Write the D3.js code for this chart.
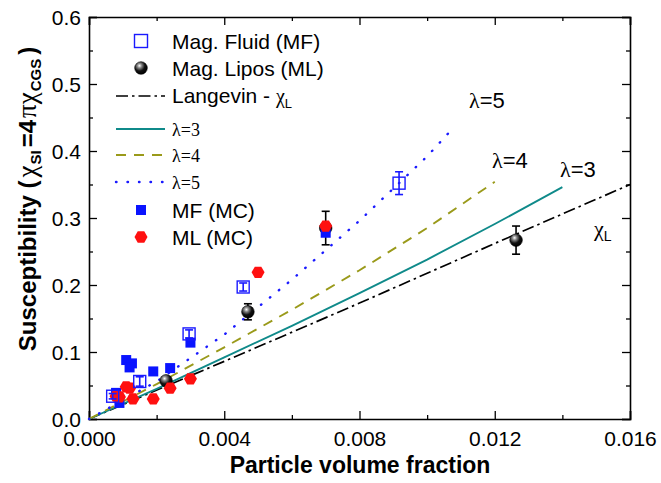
<!DOCTYPE html>
<html><head><meta charset="utf-8">
<script src="https://cdn.jsdelivr.net/npm/d3@7"></script>
<style>
body{margin:0;background:#fff;}
svg{font-family:"Liberation Sans",Arial,sans-serif;}
</style></head><body>
<svg id="chart" width="661" height="483"></svg>
<script>
// ---- data ----
const xTicks = [0, 0.004, 0.008, 0.012, 0.016];
const yTicks = [0, 0.1, 0.2, 0.3, 0.4, 0.5, 0.6];
// experimental: [x, y, err]
const magFluid = [[0.0007,0.034,0.004],[0.0015,0.056,0.007],[0.00296,0.127,0.006],[0.00456,0.197,0.006],[0.00917,0.352,0.017]];
const magLipos = [[0.00228,0.057,0.004],[0.0047,0.160,0.012],[0.0070,0.285,0.025],[0.01263,0.267,0.021]];
// simulations
const mfMC = [[0.0008,0.039],[0.0009,0.024],[0.0011,0.088],[0.00127,0.083],[0.0012,0.077],[0.0019,0.071],[0.0024,0.076],[0.0030,0.114],[0.0070,0.278]];
const mlMC = [[0.0008,0.034],[0.0009,0.033],[0.0011,0.048],[0.0012,0.046],[0.0013,0.030],[0.0019,0.030],[0.0024,0.046],[0.0030,0.060],[0.0050,0.219],[0.0070,0.288]];
// theory curves
const langevin = [[0,0],[0.004,0.086],[0.008,0.173],[0.012,0.262],[0.016,0.350]];
const lambda3 = [[0,0],[0.002,0.045],[0.004,0.092],[0.006,0.139],[0.008,0.188],[0.010,0.238],[0.012,0.291],[0.014,0.346]];
const lambda4 = [[0,0],[0.002,0.052],[0.004,0.107],[0.006,0.163],[0.008,0.222],[0.010,0.285],[0.012,0.354]];
const lambda5 = [[0,0],[0.002,0.056],[0.004,0.126],[0.006,0.208],[0.008,0.296],[0.010,0.392],[0.0108,0.436]];

const SERIF = "'Liberation Serif','Times New Roman',serif";
const svg = d3.select("#chart");
const L=89, R=630, T=17, B=419;
const x = d3.scaleLinear().domain([0,0.016]).range([L,R]);
const y = d3.scaleLinear().domain([0,0.6]).range([B,T]);

const defs = svg.append("defs");
const rg = defs.append("radialGradient").attr("id","sph").attr("cx","0.38").attr("cy","0.32").attr("r","0.7");
rg.append("stop").attr("offset","0").attr("stop-color","#ffffff");
rg.append("stop").attr("offset","0.25").attr("stop-color","#888");
rg.append("stop").attr("offset","0.6").attr("stop-color","#111");
rg.append("stop").attr("offset","1").attr("stop-color","#000");

// axes
const minorX = d3.range(0,0.0161,0.002);
const minorY = d3.range(0,0.601,0.05);
const g = svg.append("g");
const axB = d3.axisBottom(x).tickValues(minorX).tickSize(-8).tickFormat(d=>xTicks.some(t=>Math.abs(t-d)<1e-9)?d3.format(".3f")(d):"").tickPadding(12);
const axL = d3.axisLeft(y).tickValues(minorY).tickSize(-8).tickFormat(d=>yTicks.some(t=>Math.abs(t-d)<1e-9)?d3.format(".1f")(d):"").tickPadding(8);
const axT = d3.axisTop(x).tickValues(minorX).tickSize(-8).tickFormat("");
const axR = d3.axisRight(y).tickValues(minorY).tickSize(-8).tickFormat("");
function styleAx(sel){
  sel.attr("font-family",null).attr("font-size",null);
  sel.select(".domain").attr("stroke","#000").attr("stroke-width",1.6);
  sel.selectAll(".tick line").attr("stroke","#000").attr("stroke-width",1.3);
  sel.selectAll(".tick text").style("font-size","21px").attr("fill","#000");
}
const gb = g.append("g").attr("transform",`translate(0,${B})`).call(axB); styleAx(gb);
const gl = g.append("g").attr("transform",`translate(${L},0)`).call(axL); styleAx(gl);
const gt = g.append("g").attr("transform",`translate(0,${T})`).call(axT); styleAx(gt);
const gr = g.append("g").attr("transform",`translate(${R},0)`).call(axR); styleAx(gr);
[gb,gl,gt,gr].forEach((s,i)=>{
  s.selectAll(".tick").each(function(d){
    const major = (i%2==0? xTicks: yTicks).some(t=>Math.abs(t-d)<1e-9);
    if(!major){
      const ln=d3.select(this).select("line");
      if(i==0) ln.attr("y2",-4); if(i==2) ln.attr("y2",4);
      if(i==1) ln.attr("x2",4); if(i==3) ln.attr("x2",-4);
    }
  });
});
gl.selectAll(".tick text").attr("dy","0.34em");

// lines
const line = d3.line().x(d=>x(d[0])).y(d=>y(d[1]));
const lines = [
  {data:langevin, color:"#000", dash:"12,4,2.5,4", w:1.7, cap:"butt"},
  {data:lambda3, color:"#0f8a8a", dash:null, w:1.9, cap:"butt"},
  {data:lambda4, color:"#9a9a1a", dash:"10,8", w:1.9, cap:"butt"},
  {data:lambda5, color:"#1a1aff", dash:"0.5,11", w:2.4, cap:"round"}
];
const lg = svg.append("g");
lines.forEach(l=>{
  lg.append("path").attr("d",line(l.data)).attr("fill","none").attr("stroke",l.color)
    .attr("stroke-width",l.w).attr("stroke-dasharray",l.dash).attr("stroke-linecap",l.cap);
});

// error bars
function errbars(data,color){
  const eg = svg.append("g").attr("stroke",color).attr("stroke-width",1.6);
  data.forEach(d=>{
    const cx=x(d[0]), y1=y(d[1]-d[2]), y2=y(d[1]+d[2]);
    eg.append("line").attr("x1",cx).attr("x2",cx).attr("y1",y1).attr("y2",y2);
    eg.append("line").attr("x1",cx-4).attr("x2",cx+4).attr("y1",y1).attr("y2",y1);
    eg.append("line").attr("x1",cx-4).attr("x2",cx+4).attr("y1",y2).attr("y2",y2);
  });
}
errbars(magLipos,"#000");

svg.append("g").selectAll("circle").data(magLipos).join("circle")
  .attr("cx",d=>x(d[0])).attr("cy",d=>y(d[1])).attr("r",6.3).attr("fill","url(#sph)").attr("stroke","#000").attr("stroke-width",0.6);

svg.append("g").selectAll("rect").data(mfMC).join("rect")
  .attr("x",d=>x(d[0])-5).attr("y",d=>y(d[1])-5).attr("width",10).attr("height",10).attr("fill","#0a14ff");

const hex = r=>d3.range(6).map(i=>{const a=Math.PI/3*i; return [r*Math.cos(a), r*Math.sin(a)];});
svg.append("g").selectAll("polygon").data(mlMC).join("polygon")
  .attr("points",hex(6.5).map(p=>p.join(",")).join(" "))
  .attr("transform",d=>`translate(${x(d[0])},${y(d[1])})`).attr("fill","#ff1010");

errbars(magFluid,"#1a1aff");
svg.append("g").selectAll("rect").data(magFluid).join("rect")
  .attr("x",d=>x(d[0])-6).attr("y",d=>y(d[1])-6).attr("width",12).attr("height",12)
  .attr("fill","none").attr("stroke","#1a1aff").attr("stroke-width",1.4);

// legend
const leg = svg.append("g").style("font-size","21px");
const symX=141, txtX=172;
leg.append("rect").attr("x",symX-6.5).attr("y",41-6.5).attr("width",13).attr("height",13).attr("fill","none").attr("stroke","#1a1aff").attr("stroke-width",1.4);
leg.append("text").attr("x",txtX).attr("y",49).text("Mag. Fluid (MF)");
leg.append("circle").attr("cx",symX).attr("cy",68).attr("r",6.3).attr("fill","url(#sph)").attr("stroke","#000").attr("stroke-width",0.6);
leg.append("text").attr("x",txtX).attr("y",76).text("Mag. Lipos (ML)");
const legLines=[{y:96,i:0},{y:129,i:1},{y:155,i:2},{y:182,i:3}];
legLines.forEach(o=>{
  const l=lines[o.i];
  leg.append("line").attr("x1",116).attr("x2",165).attr("y1",o.y).attr("y2",o.y).attr("stroke",l.color)
   .attr("stroke-width",l.w).attr("stroke-dasharray",l.dash).attr("stroke-linecap",l.cap);
});
const tL = leg.append("text").attr("x",txtX).attr("y",103);
tL.append("tspan").text("Langevin - ");
tL.append("tspan").style("font-family",SERIF).style("font-size","20px").text("χ");
tL.append("tspan").style("font-size","13px").attr("dy",5).text("L");
[["λ=3",136],["λ=4",162],["λ=5",189]].forEach(t=>{
  leg.append("text").attr("x",txtX).attr("y",t[1]).style("font-size","18px").style("font-family",SERIF).text(t[0]);
});
leg.append("rect").attr("x",symX-5).attr("y",210-5).attr("width",10).attr("height",10).attr("fill","#0a14ff");
leg.append("text").attr("x",txtX).attr("y",218).text("MF (MC)");
leg.append("polygon").attr("points",hex(6.5).map(p=>p.join(",")).join(" ")).attr("transform",`translate(${symX},237)`).attr("fill","#ff1010");
leg.append("text").attr("x",txtX).attr("y",245).text("ML (MC)");

// curve annotations
const ann = svg.append("g").style("font-size","22px");
function lamLabel(px,py,txt){
  const t=ann.append("text").attr("x",px).attr("y",py);
  t.append("tspan").style("font-family",SERIF).text("λ");
  t.append("tspan").text(txt);
}
lamLabel(469,108,"=5");
lamLabel(492,168,"=4");
lamLabel(560,177,"=3");
const chiL = ann.append("text").attr("x",594).attr("y",236);
chiL.append("tspan").style("font-family",SERIF).text("χ");
chiL.append("tspan").style("font-size","14px").attr("dy",5).text("L");

// axis titles
svg.append("text").attr("x",360).attr("y",473).attr("text-anchor","middle").style("font-size","23px").attr("font-weight","bold").text("Particle volume fraction");
const yt = svg.append("text").attr("transform",`translate(36,199) rotate(-90)`).attr("text-anchor","middle").style("font-size","24px").attr("font-weight","bold");
yt.append("tspan").text("Susceptibility (");
yt.append("tspan").attr("dx",3).attr("font-weight","normal").style("font-family",SERIF).style("font-size","27px").text("χ");
yt.append("tspan").style("font-size","15px").attr("dy",5).attr("dx",1).text("SI");
yt.append("tspan").attr("dy",-5).attr("dx",3).text("=4");
yt.append("tspan").attr("dx",2).attr("font-weight","normal").style("font-family",SERIF).style("font-size","27px").text("πχ");
yt.append("tspan").style("font-size","15px").attr("dy",5).attr("dx",1).text("CGS");
yt.append("tspan").attr("dy",-5).attr("dx",4).text(")");
</script></body></html>
